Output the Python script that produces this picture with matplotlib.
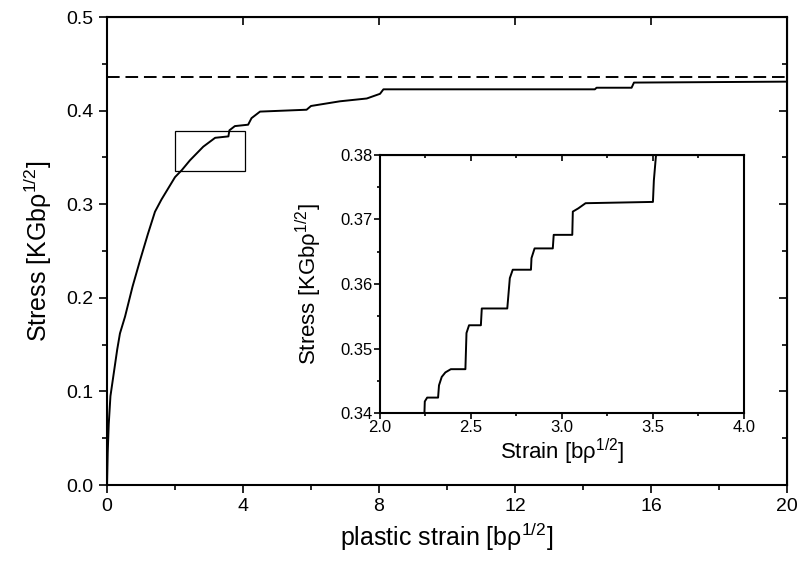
import matplotlib.pyplot as plt
from matplotlib.patches import Rectangle

plt.rcParams['font.family'] = ['Liberation Sans', 'DejaVu Sans']
plt.rcParams['mathtext.fontset'] = 'custom'
plt.rcParams['mathtext.rm'] = 'Liberation Sans'
plt.rcParams['mathtext.it'] = 'Liberation Sans'

# main stress-strain curve
strain = [0.0, 0.02, 0.05, 0.1, 0.2, 0.3, 0.38, 0.53, 0.75, 0.97, 1.2, 1.41,
          1.6, 1.8, 2.0, 2.2, 2.44, 2.83, 3.18, 3.57, 3.6, 3.76, 4.15, 4.25,
          4.5, 5.87, 6.0, 6.85, 7.64, 8.03, 8.13, 14.35, 14.4, 15.43, 15.5, 20.0]
stress = [0.0, 0.035, 0.065, 0.095, 0.12, 0.145, 0.162, 0.18, 0.212, 0.24, 0.268, 0.292,
          0.305, 0.317, 0.329, 0.3365, 0.347, 0.3615, 0.371, 0.3725, 0.379, 0.3835, 0.385, 0.392,
          0.399, 0.401, 0.405, 0.41, 0.413, 0.418, 0.4228, 0.4228, 0.4245, 0.4245, 0.43, 0.431]
saturation = 0.436

# zoomed part of the curve
zx = [2.0, 2.245, 2.247, 2.26, 2.32, 2.325, 2.34, 2.36, 2.39, 2.47, 2.476, 2.49,
      2.555, 2.56, 2.70, 2.714, 2.73, 2.83, 2.833, 2.85, 2.95, 2.955, 3.057, 3.06,
      3.09, 3.13, 3.5, 3.505, 3.52]
zy = [0.34, 0.34, 0.3418, 0.3424, 0.3424, 0.3443, 0.3456, 0.3463, 0.3468, 0.3468, 0.3524, 0.3536,
      0.3536, 0.3562, 0.3562, 0.3609, 0.3622, 0.3622, 0.364, 0.3655, 0.3655, 0.3676, 0.3676, 0.3712,
      0.3717, 0.3725, 0.3727, 0.376, 0.381]

xmaj = [0, 4, 8, 12, 16, 20]
xmin = [2, 6, 10, 14, 18]
ymaj = [0.0, 0.1, 0.2, 0.3, 0.4, 0.5]
ymin = [0.05, 0.15, 0.25, 0.35, 0.45]
zxmaj = [2.0, 2.5, 3.0, 3.5, 4.0]
zxmin = [2.25, 2.75, 3.25, 3.75]
zymaj = [0.34, 0.35, 0.36, 0.37, 0.38]
zymin = [0.345, 0.355, 0.365, 0.375]

ident = (lambda v: v, lambda v: v)

fig = plt.figure(figsize=(8.03, 5.69), dpi=100)
ax = fig.add_axes([0.1333, 0.1476, 0.8467, 0.8224])
ax.plot(strain, stress, color='black', lw=1.4)
ax.axhline(saturation, color='black', lw=1.4, ls=(0, (6.5, 3)))
ax.add_patch(Rectangle((2.0, 0.335), 2.05, 0.043, fill=False, ec='black', lw=0.9))
ax.set_xlim(0, 20)
ax.set_ylim(0, 0.5)
ax.set_xticks(xmaj)
ax.set_xticks(xmin, minor=True)
ax.set_yticks(ymaj)
ax.set_yticks(ymin, minor=True)
ax.set_yticklabels(['%.1f' % v for v in ymaj])
ax.tick_params(which='both', direction='out', width=1.2, labelsize=14)
ax.tick_params(which='major', length=6)
ax.tick_params(which='minor', length=3.5)
for s in ax.spines.values():
    s.set_linewidth(1.5)
ax.set_xlabel('plastic strain [bρ$^{1/2}$]', fontsize=18, labelpad=4)
ax.set_ylabel('Stress [KGbρ$^{1/2}$]', fontsize=18, labelpad=9)

top = ax.secondary_xaxis('top', functions=ident)
top.set_xticks(xmaj)
top.tick_params(direction='in', length=6, width=1.2, labeltop=False)
right = ax.secondary_yaxis('right', functions=ident)
right.set_yticks(ymaj)
right.set_yticks(ymin, minor=True)
right.tick_params(which='both', direction='in', width=1.2, labelright=False)
right.tick_params(which='major', length=6)
right.tick_params(which='minor', length=3.5)

ax2 = fig.add_axes([0.473, 0.274, 0.4535, 0.454])
ax2.plot(zx, zy, color='black', lw=1.4)
ax2.set_xlim(2.0, 4.0)
ax2.set_ylim(0.34, 0.38)
ax2.set_xticks(zxmaj)
ax2.set_xticks(zxmin, minor=True)
ax2.set_yticks(zymaj)
ax2.set_yticks(zymin, minor=True)
ax2.set_xticklabels(['%.1f' % v for v in zxmaj])
ax2.tick_params(which='both', direction='out', width=1.2, labelsize=12, pad=1)
ax2.tick_params(which='major', length=4)
ax2.tick_params(which='minor', length=2.5)
for s in ax2.spines.values():
    s.set_linewidth(1.5)
ax2.set_xlabel('Strain [bρ$^{1/2}$]', fontsize=16, labelpad=1)
ax2.set_ylabel('Stress [KGbρ$^{1/2}$]', fontsize=16, labelpad=12)

top2 = ax2.secondary_xaxis('top', functions=ident)
top2.set_xticks(zxmaj)
top2.set_xticks(zxmin, minor=True)
top2.tick_params(which='both', direction='in', width=1.2, labeltop=False)
top2.tick_params(which='major', length=4)
top2.tick_params(which='minor', length=2.5)

fig.savefig('out.png', dpi=100)
